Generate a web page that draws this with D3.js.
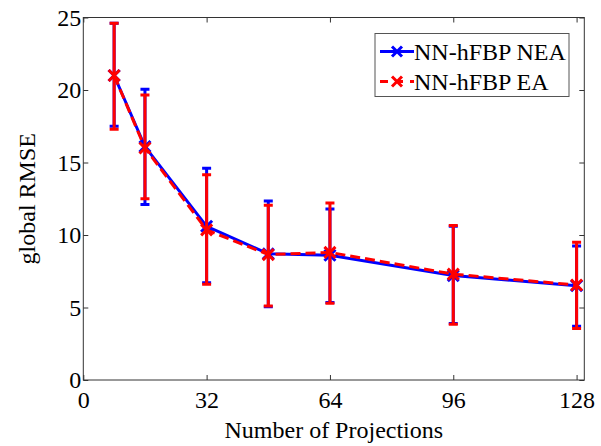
<!DOCTYPE html>
<html>
<head>
<meta charset="utf-8">
<script src="https://cdn.jsdelivr.net/npm/d3@7"></script>
<style>
  body { margin: 0; background: #fff; }
</style>
</head>
<body>
<div id="chart"></div>
<script>
// projections on the x axis
let projections = [8, 16, 32, 48, 64, 96, 128];
// NN-hFBP NEA (blue)
let neaMean = [21.0, 16.1, 10.6, 8.7, 8.6, 7.2, 6.5];
let neaLow = [17.5, 12.1, 6.7, 5.05, 5.35, 3.9, 3.7];
let neaHigh = [24.6, 20.05, 14.6, 12.35, 11.8, 10.6, 9.25];
// NN-hFBP EA (red)
let eaMean = [21.0, 16.0, 10.35, 8.65, 8.8, 7.3, 6.55];
let eaLow = [17.3, 12.5, 6.6, 5.1, 5.3, 3.85, 3.55];
let eaHigh = [24.6, 19.65, 14.15, 12.05, 12.2, 10.65, 9.5];

let xTicks = [0, 32, 64, 96, 128];
let yTicks = [0, 5, 10, 15, 20, 25];
let seriesNames = ["NN-hFBP NEA", "NN-hFBP EA"];

let width = 601;
let height = 446;
let plotLeft = 83.3;
let plotRight = 584.3;
let plotTop = 17.5;
let plotBottom = 380;
let serif = "'Liberation Serif', 'Times New Roman', serif";

let xScale = d3.scaleLinear().domain([0, 130]).range([plotLeft, plotRight]);
let yScale = d3.scaleLinear().domain([0, 25]).range([plotBottom, plotTop]);

let svg = d3.select("#chart").append("svg")
  .attr("width", width)
  .attr("height", height)
  .attr("font-family", serif);

// axes, ticks pointing inward
let xAxis = svg.append("g").attr("transform", "translate(0," + plotBottom + ")")
  .call(d3.axisBottom(xScale).tickValues(xTicks).tickSizeInner(-5).tickSizeOuter(0).tickPadding(11));
let xAxisTop = svg.append("g").attr("transform", "translate(0," + plotTop + ")")
  .call(d3.axisTop(xScale).tickValues(xTicks).tickSizeInner(-5).tickSizeOuter(0).tickFormat(""));
let yAxis = svg.append("g").attr("transform", "translate(" + plotLeft + ",0)")
  .call(d3.axisLeft(yScale).tickValues(yTicks).tickSizeInner(-5).tickSizeOuter(0).tickPadding(2));
let yAxisRight = svg.append("g").attr("transform", "translate(" + plotRight + ",0)")
  .call(d3.axisRight(yScale).tickValues(yTicks).tickSizeInner(-5).tickSizeOuter(0).tickFormat(""));

[xAxis, xAxisTop, yAxis, yAxisRight].forEach(function (a) {
  a.attr("font-family", serif).attr("font-size", 24);
  a.select(".domain").remove();
  a.selectAll(".tick line").attr("stroke", "#333");
  a.selectAll("text").attr("fill", "#000");
});

svg.append("rect")
  .attr("x", plotLeft).attr("y", plotTop)
  .attr("width", plotRight - plotLeft).attr("height", plotBottom - plotTop)
  .attr("fill", "none").attr("stroke", "#333").attr("stroke-width", 1);

// axis titles
svg.append("text")
  .attr("x", (plotLeft + plotRight) / 2).attr("y", 438)
  .attr("text-anchor", "middle").attr("font-size", 24)
  .attr("font-family", serif)
  .text("Number of Projections");
svg.append("text")
  .attr("transform", "translate(35," + (plotTop + plotBottom) / 2 + ") rotate(-90)")
  .attr("text-anchor", "middle").attr("font-size", 24)
  .attr("font-family", serif)
  .text("global RMSE");

function crossPath(cx, cy, r) {
  return "M" + (cx - r) + "," + (cy - r) + "L" + (cx + r) + "," + (cy + r) +
    "M" + (cx - r) + "," + (cy + r) + "L" + (cx + r) + "," + (cy - r);
}

function drawSeries(mean, low, high, color, dash) {
  let g = svg.append("g");
  let line = d3.line()
    .x(function (d, i) { return xScale(projections[i]); })
    .y(function (d) { return yScale(d); });
  g.append("path")
    .attr("d", line(mean))
    .attr("fill", "none")
    .attr("stroke", color)
    .attr("stroke-width", 3)
    .attr("stroke-dasharray", dash);
  projections.forEach(function (p, i) {
    let x = xScale(p);
    let y0 = yScale(low[i]);
    let y1 = yScale(high[i]);
    g.append("path")
      .attr("d", "M" + x + "," + y0 + "L" + x + "," + y1 +
        "M" + (x - 4.5) + "," + y0 + "L" + (x + 4.5) + "," + y0 +
        "M" + (x - 4.5) + "," + y1 + "L" + (x + 4.5) + "," + y1)
      .attr("fill", "none")
      .attr("stroke", color)
      .attr("stroke-width", 3);
    g.append("path")
      .attr("d", crossPath(x, yScale(mean[i]), 5.5))
      .attr("fill", "none")
      .attr("stroke", color)
      .attr("stroke-width", 3);
  });
}

drawSeries(neaMean, neaLow, neaHigh, "#0000ff", null);
drawSeries(eaMean, eaLow, eaHigh, "#ff0000", "10,5");

// legend
let legend = svg.append("g");
legend.append("rect")
  .attr("x", 375).attr("y", 33.5)
  .attr("width", 194).attr("height", 63)
  .attr("fill", "#fff").attr("stroke", "#555").attr("stroke-width", 1);
let legendColors = ["#0000ff", "#ff0000"];
let legendDash = [null, "8,7"];
seriesNames.forEach(function (name, i) {
  let y = 51.5 + i * 30;
  legend.append("line")
    .attr("x1", 380).attr("x2", 414)
    .attr("y1", y).attr("y2", y)
    .attr("stroke", legendColors[i]).attr("stroke-width", 3)
    .attr("stroke-dasharray", legendDash[i]);
  legend.append("path")
    .attr("d", crossPath(397, y, 5))
    .attr("fill", "none").attr("stroke", legendColors[i]).attr("stroke-width", 3);
  legend.append("text")
    .attr("x", 414).attr("y", y + 8.5)
    .attr("font-size", 24)
    .attr("font-family", serif)
    .text(name);
});
</script>
</body>
</html>
